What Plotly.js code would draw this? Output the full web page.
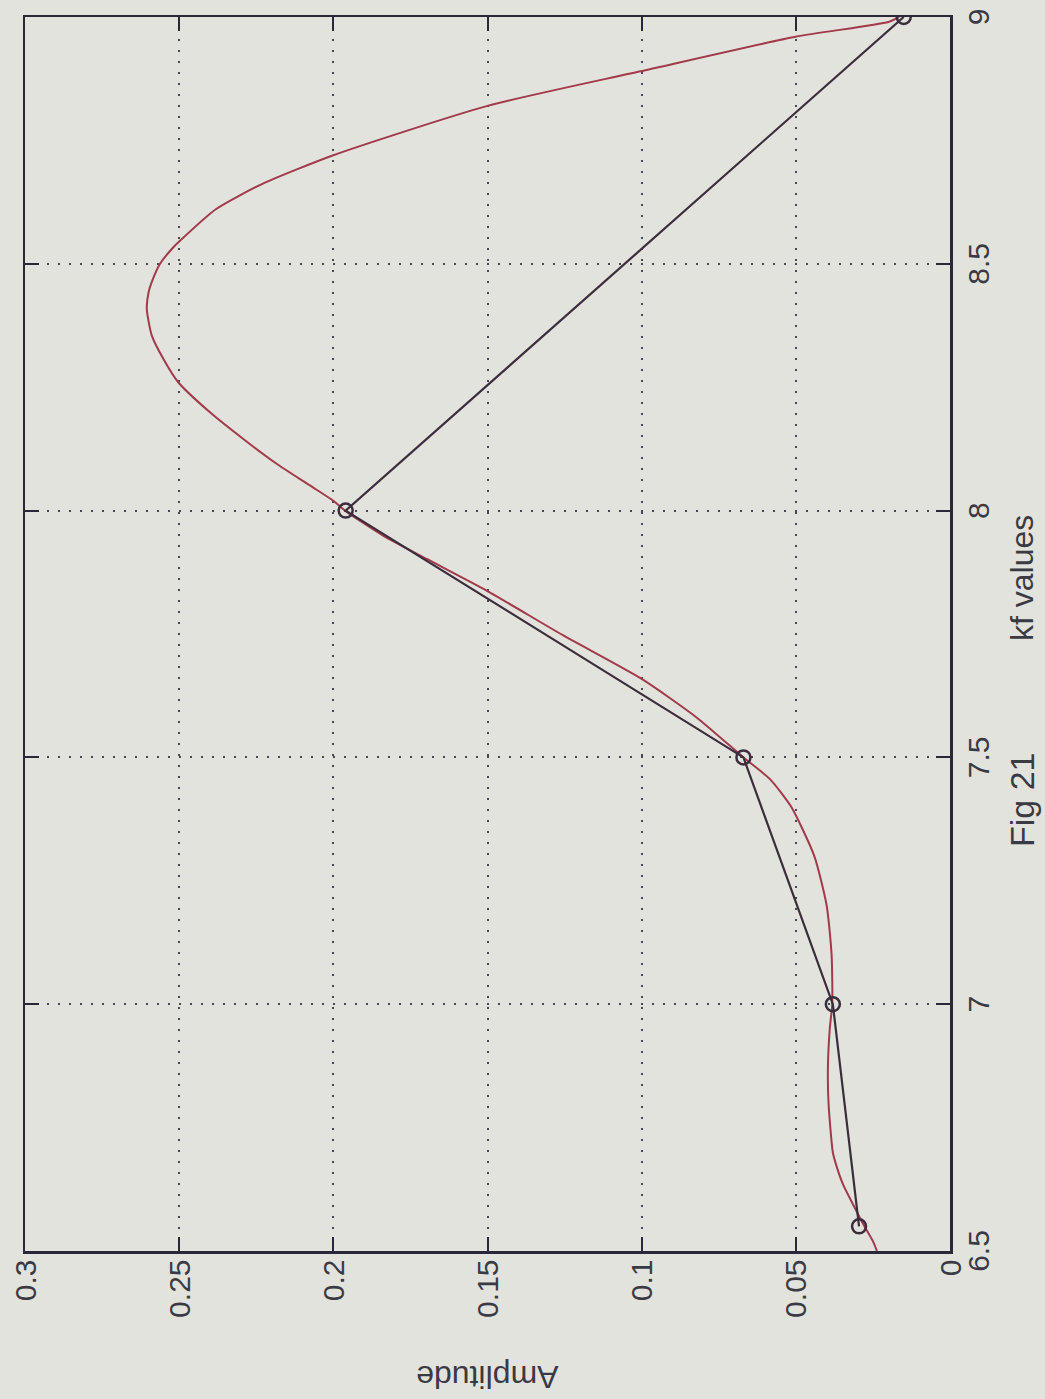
<!DOCTYPE html>
<html>
<head>
<meta charset="utf-8">
<script src="https://cdn.plot.ly/plotly-3.0.1.min.js"></script>
<style>
  html, body { margin: 0; padding: 0; background: #e3e3dd; width: 1045px; height: 1399px; overflow: hidden; }
  #wrap { position: absolute; left: 0; top: 0; width: 1399px; height: 1045px;
          transform-origin: 0 0; transform: translate(0px, 1399px) rotate(-90deg); }
  #chart { width: 1399px; height: 1045px; }
</style>
</head>
<body>
<div id="wrap"><div id="chart"></div></div>
<script>
// Measured (black, circle markers)
const kfPoints = [6.55, 7.0, 7.5, 8.0, 9.0];
const ampPoints = [0.0295, 0.038, 0.067, 0.196, 0.015];

// Fitted smooth curve (red)
const kfCurve = [6.50, 6.52, 6.555, 6.595, 6.635, 6.67, 6.70, 6.80, 6.87, 6.95, 7.00, 7.10, 7.20, 7.30, 7.40, 7.456, 7.50,
                 7.581, 7.659, 7.747, 7.838, 7.902, 7.95, 8.00, 8.02, 8.051, 8.095, 8.145, 8.199, 8.26, 8.307, 8.355,
                 8.409, 8.443, 8.463, 8.50, 8.53, 8.545, 8.611, 8.662, 8.72, 8.82, 8.89, 8.96, 8.99, 9.0];
const ampCurve = [0.0237, 0.0250, 0.0282, 0.0315, 0.0347, 0.0367, 0.0380, 0.0394, 0.0396, 0.0390, 0.0382, 0.0384, 0.0400,
                  0.0440, 0.0515, 0.0584, 0.0670, 0.0822, 0.1000, 0.1254, 0.1503, 0.1697, 0.1840, 0.1962, 0.2000, 0.2076,
                  0.2184, 0.2292, 0.2400, 0.2503, 0.2551, 0.2589, 0.2605, 0.2599, 0.2589, 0.2562, 0.2524, 0.2500, 0.2380,
                  0.2230, 0.2000, 0.1500, 0.1004, 0.0501, 0.0200, 0.0165];

const kfTicks = [6.5, 7, 7.5, 8, 8.5, 9];
const kfTickText = ['6.5', '7', '7.5', '8', '8.5', '9'];
const ampTicks = [0, 0.05, 0.1, 0.15, 0.2, 0.25, 0.3];
const ampTickText = ['0', '0.05', '0.1', '0.15', '0.2', '0.25', '0.3'];

const FONT = 'Liberation Sans, Arial, Helvetica, sans-serif';
const TXT = '#3a3a44';

const traces = [
  { x: kfCurve, y: ampCurve, type: 'scatter', mode: 'lines',
    line: { color: '#a13a4a', width: 2, shape: 'spline', smoothing: 0.6 }, hoverinfo: 'skip' },
  { x: kfPoints, y: ampPoints, type: 'scatter', mode: 'lines+markers',
    line: { color: '#3a2e3c', width: 2.2 },
    marker: { symbol: 'circle-open', size: 14, line: { color: '#2a2430', width: 2.5 } }, hoverinfo: 'skip' }
];

const axisCommon = {
  ticks: 'inside', ticklen: 14, tickwidth: 2, tickcolor: '#2a2838',
  showline: true, linewidth: 2.5, linecolor: '#2a2838', mirror: 'ticks',
  showgrid: true, gridcolor: '#4a4650', gridwidth: 2, griddash: '2px,9px',
  zeroline: false, tickfont: { family: FONT, size: 30, color: TXT }
};

const layout = {
  width: 1399, height: 1045,
  margin: { l: 148, r: 17, t: 25, b: 95 },
  paper_bgcolor: '#e3e3dd', plot_bgcolor: '#e3e3dd',
  showlegend: false,
  xaxis: Object.assign({}, axisCommon, { range: [6.5, 9], tickmode: 'array', tickvals: kfTicks, ticktext: kfTickText }),
  yaxis: Object.assign({}, axisCommon, { range: [0, 0.3], tickmode: 'array', tickvals: ampTicks, ticktext: ampTickText }),
  annotations: [
    { text: 'kf values', xref: 'x', yref: 'paper', x: 7.864, y: 0, yshift: -72, xanchor: 'center', yanchor: 'middle',
      showarrow: false, font: { family: FONT, size: 32, color: TXT } },
    { text: 'Fig 21', xref: 'x', yref: 'paper', x: 7.414, y: 0, yshift: -72, xanchor: 'center', yanchor: 'middle',
      showarrow: false, font: { family: FONT, size: 34, color: TXT } },
    { text: 'Amplitude', xref: 'paper', yref: 'paper', x: 0, xshift: -126, y: 0.5, xanchor: 'center', yanchor: 'middle',
      textangle: -90, showarrow: false, font: { family: FONT, size: 32, color: TXT } }
  ]
};

Plotly.newPlot('chart', traces, layout, { staticPlot: true, displayModeBar: false });
</script>
</body>
</html>
